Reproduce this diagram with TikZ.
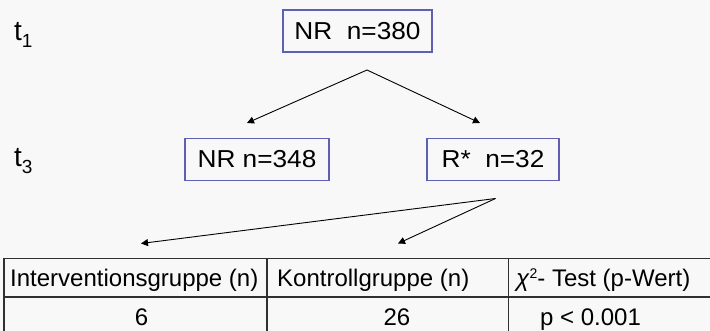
\documentclass[tikz,border=0pt]{standalone}
\usepackage{fontspec}
\setmainfont{Liberation Sans}
\newfontfamily\boxfont[FakeStretch=1.07]{Liberation Sans}
\usetikzlibrary{arrows.meta}
\definecolor{bgc}{HTML}{F8F8F8}
\definecolor{boxc}{RGB}{96,96,178}
\definecolor{tabc}{HTML}{303030}
\tikzset{
  grp/.style={draw=boxc, line width=1.3pt, minimum height=42pt, inner sep=0pt,
    font=\boxfont\fontsize{24.5}{26}\selectfont},
  tlabel/.style={anchor=base west, inner sep=0pt, font=\fontsize{28}{30}\selectfont},
  cell/.style={inner sep=0pt, font=\fontsize{24}{26}\selectfont},
  arr/.style={-{Triangle[length=7pt,width=7pt]}, line width=0.9pt, black},
  tline/.style={draw=tabc, line width=1.1pt}
}
\newcommand{\tsub}[1]{\raisebox{-7pt}{\fontsize{19}{20}\selectfont #1}}
\newcommand{\csup}[1]{\raisebox{7.5pt}{\fontsize{14}{15}\selectfont #1}}
\begin{document}
\begin{tikzpicture}[x=1pt,y=-1pt]
\fill[bgc] (0,0) rectangle (710,331);
\useasboundingbox (0,0) rectangle (710,331);
\clip (0,0) rectangle (710,331);

\node[tlabel] (t1) at (14,41) {t\tsub{1}};
\node[tlabel] (t3) at (14,167) {t\tsub{3}};

\node[grp, minimum width=149pt] (nr380) at (357.5,31) {NR\ \ n=380};
\node[grp, minimum width=144pt] (nr348) at (257,159.5) {NR n=348};
\node[grp, minimum width=132pt] (r32) at (493,159.5) {R*\ \ n=32};

\coordinate (a1) at (367,70);
\coordinate (a1l) at (247,123);
\coordinate (a1r) at (480,123);
\draw[arr] (a1) -- (a1l);
\draw[arr] (a1) -- (a1r);

\coordinate (a2) at (495.5,198.5);
\coordinate (a2l) at (141,243.5);
\coordinate (a2r) at (398,243.5);
\draw[arr] (a2) -- (a2l);
\draw[arr] (a2) -- (a2r);

% table
\coordinate (tl) at (4,258.5);
\coordinate (br) at (740,360);
\draw[tline] (tl) rectangle (br);
\draw[tline] (4,297) -- (740,297);
\draw[tline] (267,258.5) -- (267,360);
\draw[tline] (508.5,258.5) -- (508.5,360);

\node[cell, anchor=base west] (h1) at (10,286.5) {Interventionsgruppe (n)};
\node[cell, anchor=base west] (h2) at (277,286.5) {Kontrollgruppe (n)};
\node[cell, anchor=base west] (h3) at (516,286.5) {\textit{χ}\csup{2}- Test (p-Wert)};

\node[cell, anchor=base] (d1) at (141.5,325.5) {6};
\node[cell, anchor=base] (d2) at (397,325.5) {26};
\node[cell, anchor=base] (d3) at (590.5,325.5) {p < 0.001};
\end{tikzpicture}
\end{document}
